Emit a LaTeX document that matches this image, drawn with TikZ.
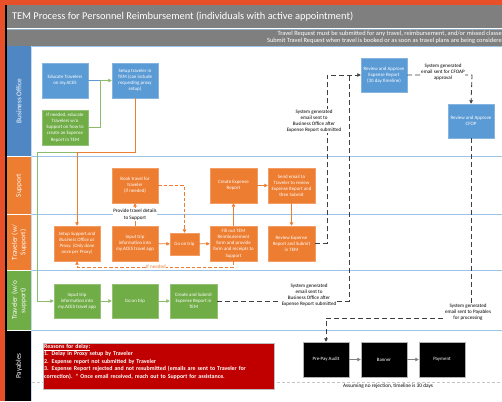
\documentclass[tikz,border=0pt]{standalone}
\usepackage{fontspec}
\setmainfont{Carlito}
\usetikzlibrary{arrows.meta}
\definecolor{obl}{HTML}{5B9BD5}
\definecolor{oor}{HTML}{ED7D31}
\definecolor{ogr}{HTML}{70AD47}
\definecolor{hbl}{HTML}{4F87C5}
\definecolor{brd}{HTML}{E8502A}
\definecolor{tgr}{HTML}{7F7F7F}
\definecolor{lnb}{HTML}{9DC3E6}
\definecolor{dred}{HTML}{C00000}
\definecolor{dsg}{HTML}{404040}
\tikzset{
  box/.style={rectangle, minimum width=46pt, minimum height=35pt, inner sep=1pt, align=center, text=white, font=\fontsize{4.9}{6.1}\selectfont},
  bluebox/.style={box, fill=obl, draw=obl!75!white},
  orbox/.style={box, fill=oor, draw=oor!75!white},
  grbox/.style={box, fill=ogr, draw=ogr!75!white},
  blkbox/.style={box, fill=black, draw=gray!60},
  lbltext/.style={font=\fontsize{5.1}{6.1}\selectfont, align=center, fill=white, inner sep=0.6pt},
  tipa/.style={-{Triangle[length=3.5pt,width=3.5pt]}},
  oline/.style={draw=oor, line width=0.8pt},
  gline/.style={draw=ogr!80!white, line width=0.8pt},
  bline/.style={draw=obl, line width=0.8pt},
  odash/.style={draw=oor, line width=0.8pt, dash pattern=on 3.5pt off 2pt},
  kdash/.style={draw=dsg, line width=0.8pt, dash pattern=on 5pt off 3pt},
  hdtext/.style={rotate=90, text=white, align=center, font=\fontsize{7.2}{8.4}\selectfont},
  lane/.style={draw=lnb, line width=0.7pt}
}
\begin{document}
\begin{tikzpicture}[x=1pt,y=-1pt]
\useasboundingbox (0,0) rectangle (502,401);
% frame and bars
\fill[white] (0,0) rectangle (502,401);
\fill[brd] (0,0) rectangle (502,5);
\fill[brd] (0,0) rectangle (5,401);
\fill[black] (5,5) rectangle (7,401);
\fill[tgr] (7,5) rectangle (502,28.5);
\fill[tgr] (7,29.5) rectangle (502,46);
\draw[lnb!70!tgr, line width=0.7pt] (7,29) -- (502,29);
\node[anchor=west, text=white, font=\fontsize{10.4}{12}\selectfont] (title) at (8.5,17) {TEM Process for Personnel Reimbursement (individuals with active appointment)};
\node[anchor=east, text=white, align=right, font=\fontsize{6.4}{7}\selectfont, inner sep=0pt] (sub) at (502,37) {Travel Request must be submitted for any travel, reimbursement, and/or missed classe\\Submit Travel Request when travel is booked or as soon as travel plans are being considere};
% lane headers
\fill[hbl] (7,46) rectangle (31,156);
\fill[oor] (7,157) rectangle (31,214);
\fill[oor] (7,215) rectangle (31,270);
\fill[ogr] (7,271) rectangle (31,330);
\fill[black] (7,331) rectangle (31,401);
\node[hdtext] (h1) at (19,101) {Business Office};
\node[hdtext] (h2) at (19,185.5) {Support};
\node[hdtext] (h3) at (19,242.5) {Traveler (w/\\Support)};
\node[hdtext] (h4) at (19,300.5) {Traveler (w/o\\support)};
\node[hdtext] (h5) at (19,366) {Payables};
% lane lines
\draw[lane] (31,46) -- (502,46);
\draw[lane] (31,156.5) -- (502,156.5);
\draw[lane] (31,214.5) -- (502,214.5);
\draw[lane] (31,270.5) -- (502,270.5);
\draw[lane] (31,330.5) -- (502,330.5);
\draw[lnb!60, line width=0.5pt] (31.5,46) -- (31.5,401);
\draw[gray!45, line width=0.5pt, dash pattern=on 3pt off 2pt] (32,382) -- (502,382);
% nodes
\node[bluebox] (educ) at (65,80.5) {Educate Travelers\\on my.ACES};
\node[bluebox] (setup) at (135,80.5) {Setup traveler in\\TEM (can include\\requesting proxy\\setup)};
\node[grbox] (ifneed) at (65,127.5) {If needed, educate\\Travelers w/o\\Support on how to\\create an Expense\\Report in TEM};
\node[bluebox, minimum height=34pt] (revexp) at (384,75) {Review and Approve\\Expense Report\\(30 day timeline)};
\node[bluebox, minimum height=34pt] (cfop) at (471,121) {Review and Approve\\CFOP};
\node[orbox] (book) at (135,185.5) {Book travel for\\traveler\\(if needed)};
\node[orbox, minimum width=47pt] (create) at (233.5,185.5) {Create Expense\\Report};
\node[orbox, minimum width=47pt] (send) at (291.5,185.5) {Send email to\\Traveler to review\\Expense Report and\\then Submit};
\node[orbox, font=\fontsize{4.9}{6.1}\selectfont\itshape] (proxy) at (77,243.5) {Setup Support and\\Business Office as\\Proxy. (Only done\\once per Proxy)};
\node[orbox] (input1) at (135,243.5) {Input trip\\information into\\my.ACES travel app};
\node[orbox, minimum width=29pt, minimum height=22pt] (trip1) at (184.5,244) {Go on trip};
\node[orbox, minimum width=47pt] (fill) at (233.5,243.5) {Fill out TEM\\Reimbursement\\form and provide\\form and receipts to\\Support};
\node[orbox, minimum width=47pt] (review) at (291.5,243.5) {Review Expense\\Report and Submit\\in TEM};
\node[grbox, minimum height=34pt] (input2) at (77,301) {Input trip\\information into\\my.ACES travel app};
\node[grbox, minimum height=34pt] (trip2) at (135,301) {Go on trip};
\node[grbox, minimum height=34pt, minimum width=47pt] (csub) at (193.5,301) {Create and Submit\\Expense Report in\\TEM};
\node[blkbox] (prepay) at (326,359.5) {Pre-Pay Audit};
\node[blkbox] (banner) at (384,359.5) {Banner};
\node[blkbox] (payment) at (442,359.5) {Payment};
\node[rectangle, fill=dred, draw=gray!50, minimum width=231pt, minimum height=46pt, anchor=north west, inner sep=0pt] (red) at (43,343) {};
\node[anchor=north west, text=white, align=left, text width=229pt, inner sep=0pt, font=\fontsize{5.9}{7.5}\selectfont\bfseries] (redtext) at (44,344) {\underline{Reasons for delay:}\\1. Delay in Proxy setup by Traveler\\2. Expense report not submitted by Traveler\\3. Expense Report rejected and not resubmitted (emails are sent to Traveler for\\correction). * Once email received, reach out to Support for assistance.};
% turn points
\coordinate (tA) at (135,152);
\coordinate (tB) at (77,152);
\coordinate (tC) at (37,152);
\coordinate (tD) at (37,301);
\coordinate (tE) at (100,127.5);
\coordinate (tF) at (100,80.5);
\coordinate (tG) at (0,267);
\coordinate (tH) at (327,0);
\coordinate (tI) at (349,0);
\coordinate (tJ) at (0,318);
\coordinate (tK) at (472,0);
% connectors
\draw[gline, tipa] (setup.south) -- (tA) -- (tC) -- (tD) -- (input2.west);
\draw[oline, tipa] (setup.south) -- (tA) -- (tB) -- (proxy.north);
\draw[bline] (educ.east) -- (tF);
\draw[gline, tipa] (ifneed.east) -- (tE) -- (tF) -- (setup.west);
\draw[oline, tipa] (input1) -- (book);
\draw[oline, tipa] (input1) -- (trip1);
\draw[oline, tipa] (trip1) -- (fill);
\draw[oline, tipa] (fill) -- (create);
\draw[oline, tipa] (create) -- (send);
\draw[oline, tipa] (send) -- (review);
\draw[odash, tipa] (book.east) -| (trip1.north);
\draw[odash, tipa] (fill.south) -- (fill.south |- tG) -- (proxy.south |- tG) -- (proxy.south);
\draw[gline, tipa] (input2) -- (trip2);
\draw[gline, tipa] (trip2) -- (csub);
\draw[kdash, tipa] (review.east) -- (review.east -| tH) -- (revexp.west -| tH) -- (revexp.west);
\draw[kdash] (csub.east) -- (csub.east -| tI) -- (revexp.west -| tI);
\draw[kdash, tipa] (revexp.east) -- (revexp.east -| tK) -- (cfop.north);
\draw[kdash, tipa] (cfop.south) -- (cfop.south |- tJ) -- (prepay.north |- tJ) -- (prepay.north);
\draw[gray, line width=0.9pt, -{Triangle[length=3.5pt,width=3.5pt]}] (prepay) -- (banner);
\draw[gray, line width=0.9pt, -{Triangle[length=3.5pt,width=3.5pt]}] (banner) -- (payment);
% labels
\node[lbltext] (l1) at (314,121) {System generated\\email sent to\\Business Office after\\Expense Report submitted};
\node[lbltext] (l2) at (309,295) {System generated\\email sent to\\Business Office after\\Expense Report submitted};
\node[lbltext] (l3) at (443,72) {System generated\\email sent for CFOAP\\approval};
\node[lbltext] (l4) at (468,312) {System generated\\email sent to Payables\\for processing};
\node[lbltext, font=\fontsize{5.1}{6.6}\selectfont] (l5) at (135,214.5) {Provide travel details\\to Support};
\node[lbltext, text=oor] (l6) at (156,267) {If needed};
\node[lbltext, fill=none, font=\fontsize{5.3}{6.3}\selectfont] (l7) at (388,386) {Assuming no rejection, timeline is 30 days};
\end{tikzpicture}
\end{document}
